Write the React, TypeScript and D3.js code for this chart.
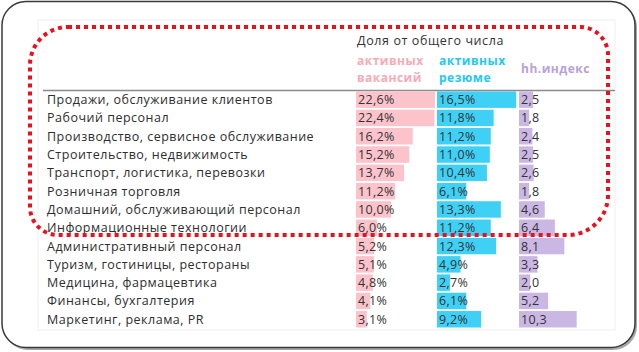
import React, { useEffect, useRef } from 'react';
import * as d3 from 'd3';

const categories = [
  'Продажи, обслуживание клиентов',
  'Рабочий персонал',
  'Производство, сервисное обслуживание',
  'Строительство, недвижимость',
  'Транспорт, логистика, перевозки',
  'Розничная торговля',
  'Домашний, обслуживающий персонал',
  'Информационные технологии',
  'Административный персонал',
  'Туризм, гостиницы, рестораны',
  'Медицина, фармацевтика',
  'Финансы, бухгалтерия',
  'Маркетинг, реклама, PR',
];
const vacancies = [22.6, 22.4, 16.2, 15.2, 13.7, 11.2, 10.0, 6.0, 5.2, 5.1, 4.8, 4.1, 3.1];
const resumes = [16.5, 11.8, 11.2, 11.0, 10.4, 6.1, 13.3, 11.2, 12.3, 4.9, 2.7, 6.1, 9.2];
const hhIndex = [2.5, 1.8, 2.4, 2.5, 2.6, 1.8, 4.6, 6.4, 8.1, 3.3, 2.0, 5.2, 10.3];

const headerTitle = 'Доля от общего числа';
const vacLabel = ['активных', 'вакансий'];
const resLabel = ['активных', 'резюме'];
const idxLabel = 'hh.индекс';

const fmt = (v: number, pct: boolean) => v.toFixed(1).replace('.', ',') + (pct ? '%' : '');

const App = () => {
  const ref = useRef<SVGSVGElement | null>(null);

  useEffect(() => {
    if (!ref.current) return;
    const svg = d3.select(ref.current);
    svg.selectAll('*').remove();

    const font = '"Open Sans", sans-serif';

    // outer frame with shadow
    svg.append('rect')
      .attr('x', 4).attr('y', 3).attr('width', 633).attr('height', 347)
      .attr('rx', 24).attr('fill', '#a8a8a8');
    svg.append('rect')
      .attr('x', 2).attr('y', 1.5).attr('width', 633).attr('height', 346)
      .attr('rx', 24).attr('fill', '#fff').attr('stroke', '#3a3a3a').attr('stroke-width', 1.5);

    // faint inner panel
    svg.append('rect')
      .attr('x', 38).attr('y', 20).attr('width', 577).attr('height', 310)
      .attr('fill', 'none').attr('stroke', '#f0f0f0').attr('stroke-width', 1);

    const y = d3.scaleBand()
      .domain(categories)
      .range([90.5, 90.5 + 18.3 * categories.length])
      .paddingInner(0.1)
      .paddingOuter(0.05);

    const xVac = d3.scaleLinear().domain([0, 25]).range([0, 87.5]);
    const xRes = d3.scaleLinear().domain([0, 20]).range([0, 96]);
    const xIdx = d3.scaleLinear().domain([0, 12]).range([0, 67.2]);

    const cols = [
      { values: vacancies, x0: 356, scale: xVac, fill: '#fcc3cb', pct: true },
      { values: resumes, x0: 437, scale: xRes, fill: '#3fd0f6', pct: true },
      { values: hhIndex, x0: 519, scale: xIdx, fill: '#cbb7e4', pct: false },
    ];

    // header
    svg.append('text')
      .attr('x', 357).attr('y', 45)
      .attr('font-family', font).attr('font-size', 12.5).attr('fill', '#333')
      .attr('letter-spacing', 0.6)
      .text(headerTitle);

    const hdr = (lines: string[], x: number, color: string) => {
      lines.forEach((t, i) => {
        svg.append('text')
          .attr('x', x).attr('y', 65 + i * 17)
          .attr('font-family', font).attr('font-size', 12).attr('font-weight', 700)
          .attr('letter-spacing', 0.5)
          .attr('fill', color)
          .text(t);
      });
    };
    hdr(vacLabel, 357, '#f9a9b6');
    hdr(resLabel, 439, '#1fc8f1');
    svg.append('text')
      .attr('x', 521).attr('y', 73)
      .attr('font-family', font).attr('font-size', 12).attr('font-weight', 700)
      .attr('letter-spacing', 0.5)
      .attr('fill', '#b7a2d8')
      .text(idxLabel);

    svg.append('line')
      .attr('x1', 43).attr('x2', 615).attr('y1', 90.5).attr('y2', 90.5)
      .attr('stroke', '#8a8a8a').attr('stroke-width', 1.5);

    // category labels
    svg.selectAll('.cat')
      .data(categories)
      .enter()
      .append('text')
      .attr('class', 'cat')
      .attr('x', 47)
      .attr('y', d => (y(d) as number) + y.bandwidth() / 2 + 4.5)
      .attr('font-family', font).attr('font-size', 12.5).attr('fill', '#2e2e2e')
      .attr('letter-spacing', 0.5)
      .text(d => d);

    cols.forEach((c, ci) => {
      const g = svg.append('g').attr('transform', `translate(${c.x0},0)`);
      g.selectAll(`.bar${ci}`)
        .data(c.values)
        .enter()
        .append('rect')
        .attr('class', `bar${ci}`)
        .attr('x', 0)
        .attr('y', (d, i) => y(categories[i]) as number)
        .attr('width', d => c.scale(d))
        .attr('height', y.bandwidth())
        .attr('fill', c.fill);
      g.selectAll(`.val${ci}`)
        .data(c.values)
        .enter()
        .append('text')
        .attr('class', `val${ci}`)
        .attr('x', 2)
        .attr('y', (d, i) => (y(categories[i]) as number) + y.bandwidth() / 2 + 4.5)
        .attr('font-family', font).attr('font-size', 12.5).attr('fill', '#333')
        .attr('letter-spacing', 0.3)
        .text(d => fmt(d, c.pct));
    });

    // red dotted highlight
    const L = 30, T = 27, R = 608, B = 235;
    const r1 = 38, r2 = 28, r3 = 40, r4 = 28;
    const p = d3.path();
    p.moveTo(L + r1, T);
    p.lineTo(R - r2, T);
    p.arcTo(R, T, R, T + r2, r2);
    p.lineTo(R, B - r3);
    p.arcTo(R, B, R - r3, B, r3);
    p.lineTo(L + r4, B);
    p.arcTo(L, B, L, B - r4, r4);
    p.lineTo(L, T + r1);
    p.arcTo(L, T, L + r1, T, r1);
    p.closePath();
    svg.append('path')
      .attr('d', p.toString())
      .attr('fill', 'none')
      .attr('stroke', '#e8111c')
      .attr('stroke-width', 4)
      .attr('stroke-dasharray', '4 4');
  }, []);

  return (
    <svg
      ref={ref}
      width={639}
      height={352}
      style={{ position: 'absolute', left: 0, top: 0, background: '#fff' }}
    />
  );
};

export default App;
